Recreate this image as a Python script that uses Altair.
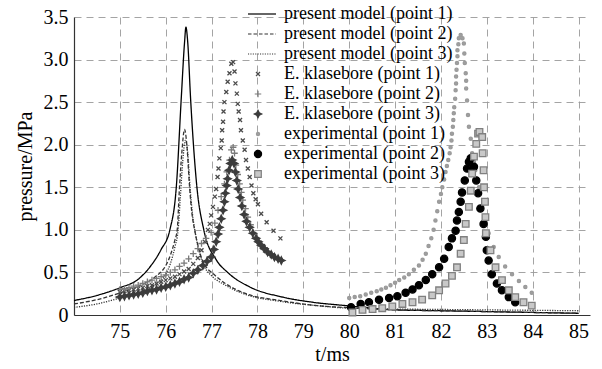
import altair as alt
import pandas as pd

SERIES = [
    "present model (point 1)", "present model (point 2)", "present model (point 3)",
    "E. klasebore (point 1)", "E. klasebore (point 2)", "E. klasebore (point 3)",
    "experimental (point 1)", "experimental (point 2)", "experimental (point 3)",
]

# ---- present model (lines) ----
m1_t = [74.0, 74.5, 75.0, 75.4, 75.65, 75.9, 76.09, 76.23, 76.34, 76.41, 76.44, 76.48, 76.54,
        76.68, 76.83, 77.1, 77.35, 77.83, 78.55, 79.2, 79.93, 80.5, 81.0, 82.0, 83.0, 84.0, 85.0]
m1_p = [0.17, 0.23, 0.32, 0.42, 0.56, 0.77, 1.0, 1.5, 2.56, 3.2, 3.38, 3.2, 2.56,
        1.5, 1.0, 0.65, 0.5, 0.33, 0.21, 0.15, 0.11, 0.08, 0.06, 0.05, 0.04, 0.03, 0.02]

m2_t = [74.0, 74.5, 75.0, 75.5, 75.8, 76.0, 76.1, 76.2, 76.25, 76.3, 76.35, 76.41, 76.46, 76.52,
        76.57, 76.63, 76.75, 76.9, 77.0, 77.3, 77.75, 78.5, 79.3, 80.0, 81.0, 82.0, 83.0, 84.0, 85.0]
m2_p = [0.13, 0.18, 0.26, 0.36, 0.46, 0.58, 0.70, 0.88, 1.0, 1.5, 1.9, 2.18, 2.0, 1.5,
        1.2, 1.0, 0.72, 0.55, 0.5, 0.37, 0.25, 0.17, 0.11, 0.085, 0.06, 0.05, 0.04, 0.03, 0.02]

m3_t = [74.0, 74.5, 75.0, 75.5, 75.8, 76.0, 76.1, 76.2, 76.27, 76.32, 76.37, 76.43, 76.48, 76.53,
        76.58, 76.65, 76.75, 76.85, 77.0, 77.3, 77.75, 78.5, 79.3, 80.0, 81.0, 82.0, 83.0, 84.0, 85.0]
m3_p = [0.09, 0.13, 0.20, 0.28, 0.37, 0.48, 0.60, 0.80, 1.0, 1.4, 1.8, 2.05, 1.9, 1.5,
        1.2, 0.95, 0.7, 0.56, 0.46, 0.35, 0.24, 0.16, 0.11, 0.08, 0.07, 0.065, 0.06, 0.055, 0.05]

# ---- E. klasebore (markers) ----
k1_t = [75.0, 75.1, 75.2, 75.3, 75.4, 75.5, 75.6, 75.7, 75.8, 75.9, 76.0, 76.1, 76.2, 76.3, 76.4,
        76.5, 76.6, 76.7, 76.78, 76.85, 76.92, 76.96, 76.99, 77.03, 77.07, 77.1, 77.13, 77.15, 77.17,
        77.2, 77.22, 77.23, 77.25, 77.26, 77.28, 77.32, 77.35, 77.39, 77.43, 77.47, 77.5, 77.52, 77.55,
        77.57, 77.59, 77.62, 77.64, 77.68, 77.72, 77.75, 77.79, 77.83, 77.87, 77.91, 77.96, 78.01,
        78.08, 78.2, 78.35, 78.5]
k1_p = [0.27, 0.28, 0.29, 0.30, 0.31, 0.32, 0.34, 0.35, 0.37, 0.39, 0.41, 0.43, 0.45, 0.48, 0.51,
        0.54, 0.60, 0.67, 0.76, 0.86, 1.0, 1.07, 1.17, 1.27, 1.39, 1.48, 1.62, 1.72, 1.84,
        1.96, 2.05, 2.17, 2.27, 2.39, 2.50, 2.62, 2.74, 2.84, 2.95, 2.97, 2.86, 2.72, 2.60,
        2.48, 2.39, 2.29, 2.17, 2.05, 1.94, 1.82, 1.72, 1.62, 1.52, 1.43, 1.36, 1.30,
        1.19, 1.09, 0.99, 0.90]

k2_t = [75.0, 75.1, 75.2, 75.3, 75.4, 75.5, 75.6, 75.7, 75.8, 75.9, 76.0, 76.1, 76.2, 76.3, 76.4,
        76.5, 76.6, 76.7, 76.78, 76.88, 76.99, 77.07, 77.14, 77.21, 77.28, 77.33, 77.39, 77.43, 77.47,
        77.5, 77.53, 77.57, 77.61, 77.65, 77.68, 77.74, 77.79, 77.85, 77.9, 77.97, 78.04, 78.12,
        78.19, 78.28, 78.37]
k2_p = [0.30, 0.31, 0.32, 0.34, 0.35, 0.37, 0.39, 0.41, 0.43, 0.45, 0.47, 0.50, 0.53, 0.57, 0.61,
        0.66, 0.72, 0.78, 0.84, 0.90, 0.97, 1.08, 1.23, 1.39, 1.54, 1.68, 1.82, 1.94, 1.97,
        1.90, 1.76, 1.65, 1.54, 1.44, 1.35, 1.25, 1.15, 1.06, 0.97, 0.90, 0.84, 0.79,
        0.75, 0.71, 0.68]

k3_t = [75.0, 75.1, 75.2, 75.3, 75.4, 75.5, 75.6, 75.7, 75.8, 75.9, 76.0, 76.1, 76.2, 76.3, 76.4,
        76.5, 76.6, 76.7, 76.81, 76.9, 76.99, 77.05, 77.1, 77.14, 77.17, 77.21, 77.25, 77.28, 77.3,
        77.33, 77.35, 77.38, 77.41, 77.45, 77.49, 77.52, 77.55, 77.58, 77.62, 77.66, 77.71, 77.76,
        77.83, 77.9, 77.97, 78.02, 78.08, 78.15, 78.22, 78.3, 78.37, 78.45, 78.52]
k3_p = [0.21, 0.22, 0.23, 0.24, 0.25, 0.26, 0.28, 0.29, 0.30, 0.32, 0.33, 0.35, 0.37, 0.39, 0.42,
        0.44, 0.49, 0.53, 0.58, 0.63, 0.68, 0.77, 0.86, 0.95, 1.03, 1.13, 1.23, 1.33, 1.43,
        1.52, 1.60, 1.70, 1.78, 1.82, 1.78, 1.68, 1.58, 1.48, 1.38, 1.28, 1.18, 1.10,
        1.03, 0.96, 0.90, 0.86, 0.82, 0.78, 0.74, 0.71, 0.68, 0.66, 0.64]

# ---- experimental (markers) ----
e1_t = [80.0, 80.12, 80.24, 80.36, 80.48, 80.6, 80.7, 80.8, 80.9, 81.0, 81.09, 81.2, 81.3, 81.41,
        81.52, 81.6, 81.67, 81.73, 81.79, 81.84, 81.88, 81.92, 81.96, 82.0, 82.03, 82.07, 82.1,
        82.13, 82.16, 82.19, 82.21, 82.23, 82.24, 82.26, 82.27, 82.28, 82.29, 82.31, 82.32, 82.33,
        82.33, 82.34, 82.35, 82.36, 82.36, 82.38, 82.39, 82.43, 82.47, 82.5, 82.51, 82.52, 82.54,
        82.55, 82.55, 82.57, 82.59, 82.61, 82.65, 82.68, 82.72, 82.75, 82.79, 82.83, 82.9, 82.97,
        83.04, 83.15, 83.26, 83.4, 83.55, 83.7, 83.84, 83.98]
e1_p = [0.20, 0.21, 0.22, 0.24, 0.26, 0.28, 0.30, 0.32, 0.35, 0.38, 0.41, 0.44, 0.48, 0.53,
        0.58, 0.65, 0.72, 0.81, 0.90, 1.0, 1.11, 1.22, 1.33, 1.42, 1.50, 1.59, 1.68,
        1.75, 1.82, 1.90, 1.97, 2.05, 2.13, 2.21, 2.29, 2.37, 2.44, 2.54, 2.64, 2.72,
        2.80, 2.88, 2.96, 3.04, 3.11, 3.18, 3.25, 3.29, 3.25, 3.19, 3.07, 2.96, 2.84,
        2.75, 2.66, 2.52, 2.35, 2.21, 2.07, 1.90, 1.80, 1.70, 1.60, 1.50, 1.27, 1.10,
        0.96, 0.80, 0.68, 0.57, 0.48, 0.40, 0.33, 0.26]

e2_t = [80.04, 80.25, 80.43, 80.65, 80.87, 81.05, 81.23, 81.38, 81.52, 81.67, 81.81, 81.96, 82.07,
        82.17, 82.24, 82.32, 82.35, 82.39, 82.43, 82.46, 82.52, 82.57, 82.61, 82.65, 82.72, 82.77,
        82.81, 82.86, 82.93, 82.98, 83.0, 83.04, 83.11, 83.22, 83.33, 83.48, 83.62]
e2_p = [0.09, 0.13, 0.15, 0.18, 0.20, 0.22, 0.26, 0.30, 0.35, 0.41, 0.48, 0.56, 0.66,
        0.80, 0.90, 0.99, 1.11, 1.21, 1.33, 1.44, 1.58, 1.72, 1.80, 1.84, 1.74, 1.58,
        1.43, 1.25, 1.07, 0.92, 0.76, 0.64, 0.48, 0.37, 0.29, 0.21, 0.15]

e3_t = [80.07, 80.29, 80.51, 80.72, 80.94, 81.16, 81.38, 81.59, 81.81, 81.96, 82.1, 82.24, 82.35,
        82.43, 82.5, 82.54, 82.61, 82.65, 82.68, 82.72, 82.77, 82.81, 82.84, 82.9, 82.91, 82.93,
        82.94, 82.96, 82.97, 82.98, 83.08, 83.19, 83.33, 83.48, 83.62, 83.8, 83.98]
e3_p = [0.03, 0.06, 0.07, 0.08, 0.10, 0.13, 0.15, 0.18, 0.23, 0.29, 0.37, 0.46, 0.56,
        0.72, 0.88, 1.07, 1.27, 1.46, 1.66, 1.86, 2.01, 2.13, 2.15, 2.09, 1.90, 1.70,
        1.50, 1.33, 1.15, 0.96, 0.76, 0.56, 0.41, 0.29, 0.21, 0.15, 0.11]

X_TICKS = [75, 76, 77, 78, 79, 80, 81, 82, 83, 84, 85]
Y_TICKS = [0, 0.5, 1.0, 1.5, 2.0, 2.5, 3.0, 3.5]

line_series = [(SERIES[0], m1_t, m1_p), (SERIES[1], m2_t, m2_p), (SERIES[2], m3_t, m3_p)]
point_series = [(SERIES[3], k1_t, k1_p), (SERIES[4], k2_t, k2_p), (SERIES[5], k3_t, k3_p),
                (SERIES[6], e1_t, e1_p), (SERIES[7], e2_t, e2_p), (SERIES[8], e3_t, e3_p)]


def frame(items):
    rows = []
    for name, ts, ps in items:
        for i, (t, p) in enumerate(zip(ts, ps)):
            rows.append({"series": name, "t": t, "p": p, "order": i})
    return pd.DataFrame(rows)


lines_df = frame(line_series)
points_df = frame(point_series)


# ---- styles ----
def dashed_path(x0, x1, on, off):
    parts, x = [], x0
    while x < x1:
        e = min(x + on, x1)
        parts.append(f"M{x:.2f},0H{e:.2f}")
        x = e + off
    return "".join(parts)


def circle_path(r):
    return f"M{r},0A{r},{r},0,1,1,{-r},0A{r},{r},0,1,1,{r},0Z"


SHAPES = [
    "M-2,0H3.6",
    dashed_path(-2, 3.6, 0.7, 0.4),
    dashed_path(-2, 3.6, 0.22, 0.26),
    "M-0.4,-0.4L0.4,0.4M-0.4,0.4L0.4,-0.4",
    "M-0.65,0H0.65M0,-0.65V0.65",
    "M0,-0.75L0.25,-0.25L0.75,0L0.25,0.25L0,0.75L-0.25,0.25L-0.75,0L-0.25,-0.25Z",
    circle_path(0.32),
    circle_path(0.72),
    "M-0.66,-0.66H0.66V0.66H-0.66Z",
]
STROKES = ["#000000", "#333333", "#333333", "#4a4a4a", "#7a7a7a", "#3c3c3c", "#9a9a9a", "#000000", "#808080"]
FILLS = ["transparent", "transparent", "transparent", "#4a4a4a", "#7a7a7a", "#3c3c3c", "#a0a0a0", "#000000", "#c8c8c8"]
DASHES = [[1, 0], [4, 2], [1.2, 1.3]]

FONT = "Liberation Serif"

x_enc = alt.X("t:Q", scale=alt.Scale(domain=[74, 85.25], nice=False, zero=False),
              axis=alt.Axis(values=X_TICKS, title="t/ms", labelPadding=6, titlePadding=3))
y_enc = alt.Y("p:Q", scale=alt.Scale(domain=[0, 3.5], nice=False),
              axis=alt.Axis(values=Y_TICKS, title="pressure/MPa", labelPadding=6, titlePadding=8,
                            labelExpr="datum.value == 0 ? '0' : format(datum.value, '.1f')"))

stroke_scale = alt.Scale(domain=SERIES, range=STROKES)

lines = alt.Chart(lines_df).mark_line(strokeWidth=1.3, interpolate="monotone").encode(
    x=x_enc, y=y_enc,
    order="order:Q",
    stroke=alt.Stroke("series:N", scale=stroke_scale, title=None),
    strokeDash=alt.StrokeDash("series:N", scale=alt.Scale(domain=SERIES[:3], range=DASHES), legend=None),
)

points = alt.Chart(points_df).mark_point(size=100, strokeWidth=1.3, opacity=1).encode(
    x=x_enc, y=y_enc,
    stroke=alt.Stroke("series:N", scale=stroke_scale, title=None),
    fill=alt.Fill("series:N", scale=alt.Scale(domain=SERIES, range=FILLS), title=None),
    shape=alt.Shape("series:N", scale=alt.Scale(domain=SERIES, range=SHAPES), title=None),
)

chart = alt.layer(lines, points).properties(
    width=516, height=298,
    autosize=alt.AutoSizeParams(type="none"),
    padding={"left": 74, "top": 17, "right": 12, "bottom": 54},
).configure_view(stroke=None).configure_axis(
    grid=True, gridColor="#9a9a9a", gridDash=[7, 5], gridWidth=0.9,
    domainColor="#333333", domainWidth=1.2, ticks=False,
    labelFont=FONT, labelFontSize=20, labelColor="#000000",
    titleFont=FONT, titleFontSize=20, titleFontWeight="normal", titleColor="#000000",
).configure_legend(
    orient="none", legendX=175, legendY=-12, padding=0, rowPadding=2,
    labelOffset=17, symbolSize=100, symbolStrokeWidth=1.2, symbolOffset=0,
    labelFont=FONT, labelFontSize=18, labelColor="#000000", labelLimit=400,
)

chart.save("out.html", embed_options={"renderer": "svg", "actions": False})
